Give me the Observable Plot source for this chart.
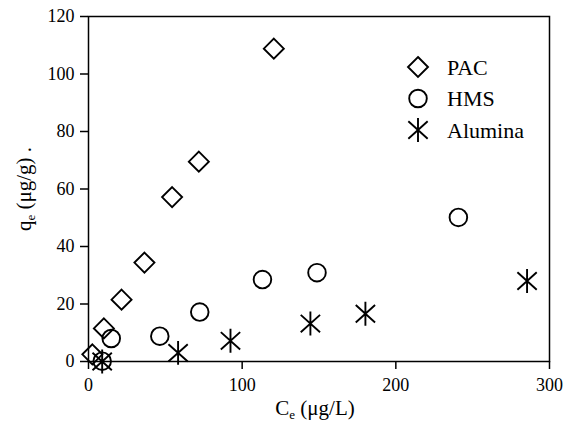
<!DOCTYPE html>
<html><head><meta charset="utf-8">
<script src="https://cdn.jsdelivr.net/npm/d3@7"></script>
<script src="https://cdn.jsdelivr.net/npm/@observablehq/plot@0.6"></script>
<style>
body{margin:0;background:#fff}
#chart{width:567px;height:424px}
#chart svg, #chart svg text{font-family:"Liberation Serif","Times New Roman",Times,serif !important;}
</style>
</head><body><div id="chart"></div>
<script>
const series = ["PAC", "HMS", "Alumina"];
const pacCe = [2.5, 10, 21.5, 36.4, 54.4, 71.8, 120.6];
const pacQe = [2.5, 11.5, 21.5, 34.4, 57.2, 69.5, 108.8];
const hmsCe = [8.9, 14.8, 46.4, 72.4, 113.2, 148.7, 240.7];
const hmsQe = [0.1, 8.0, 8.8, 17.2, 28.5, 30.9, 50.1];
const aluCe = [8.9, 58.3, 92.4, 144.4, 180.2, 285.4];
const aluQe = [0, 3, 7.2, 13.2, 16.6, 28];
const xTicks = [0, 100, 200, 300];
const yTicks = [0, 20, 40, 60, 80, 100, 120];

const diamond = {draw(ctx, size) {const r = Math.sqrt(size / Math.PI); ctx.moveTo(0, -r); ctx.lineTo(r, 0); ctx.lineTo(0, r); ctx.lineTo(-r, 0); ctx.closePath();}};
const circle = {draw(ctx, size) {const r = Math.sqrt(size / Math.PI); ctx.moveTo(r, 0); ctx.arc(0, 0, r, 0, 2 * Math.PI);}};
const asterisk = {draw(ctx, size) {const r = Math.sqrt(size / Math.PI); const rv = r * 0.92; const a = 42 * Math.PI / 180; const dx = r * Math.cos(a), dy = r * Math.sin(a);
  ctx.moveTo(0, -rv); ctx.lineTo(0, rv); ctx.moveTo(-dx, -dy); ctx.lineTo(dx, dy); ctx.moveTo(-dx, dy); ctx.lineTo(dx, -dy);}};
const symbols = [diamond, circle, asterisk];
const radii = [10, 8.8, 13];

const toRows = (xs, ys, s) => xs.map((x, i) => ({x, y: ys[i], s}));
const pac = toRows(pacCe, pacQe, series[0]);
const hms = toRows(hmsCe, hmsQe, series[1]);
const alu = toRows(aluCe, aluQe, series[2]);

const font = "Liberation Serif";
const chart = Plot.plot({
  width: 567, height: 424,
  marginLeft: 88, marginRight: 18, marginTop: 16, marginBottom: 63,
  style: {fontFamily: font, fontSize: "18px", color: "black", background: "white"},
  x: {domain: [0, 300], label: null},
  y: {domain: [0, 120], label: null},
  marks: [
    Plot.frame({stroke: "black", strokeWidth: 1.5}),
    Plot.axisX({ticks: xTicks, tickSize: 8, tickPadding: 9, strokeWidth: 1.5, label: null, fontSize: 18, tickFormat: d => d}),
    Plot.axisY({ticks: yTicks, tickSize: 8, tickPadding: 6, strokeWidth: 1.5, label: null, fontSize: 18, tickFormat: d => d}),
    Plot.dot(pac, {x: "x", y: "y", symbol: () => diamond, r: radii[0], stroke: "black", strokeWidth: 1.9, fill: "none"}),
    Plot.dot(hms, {x: "x", y: "y", symbol: () => circle, r: radii[1], stroke: "black", strokeWidth: 1.9, fill: "none"}),
    Plot.dot(alu, {x: "x", y: "y", symbol: () => asterisk, r: radii[2], stroke: "black", strokeWidth: 1.9, fill: "none"})
  ]
});
document.getElementById("chart").append(chart);

const svg = d3.select(chart);
// axis titles
const xt = svg.append("text").attr("x", 315).attr("y", 415).attr("text-anchor", "middle")
  .style("font-size", "21px").attr("fill", "black");
xt.append("tspan").text("C");
xt.append("tspan").attr("dy", 4).style("font-size", "13px").text("e");
xt.append("tspan").attr("dy", -4).text(" (μg/L)");

const yt = svg.append("text").attr("transform", "translate(31,189) rotate(-90)").attr("text-anchor", "middle")
  .style("font-size", "21px").attr("fill", "black");
yt.append("tspan").text("q");
yt.append("tspan").attr("dy", 4).style("font-size", "13px").text("e");
yt.append("tspan").attr("dy", -4).text(" (μg/g) .");

// legend
const leg = svg.append("g").attr("transform", "translate(418,67)");
series.forEach((name, i) => {
  const g = leg.append("g").attr("transform", `translate(0,${i * 31.5})`);
  g.append("path").attr("d", d3.symbol().type(symbols[i]).size(Math.PI * radii[i] * radii[i])())
    .attr("fill", "none").attr("stroke", "black").attr("stroke-width", 1.9);
  g.append("text").attr("x", 29).attr("y", 7.5).attr("text-anchor", "start").text(name)
    .style("font-size", "22px").attr("fill", "black");
});
</script>
</body></html>
